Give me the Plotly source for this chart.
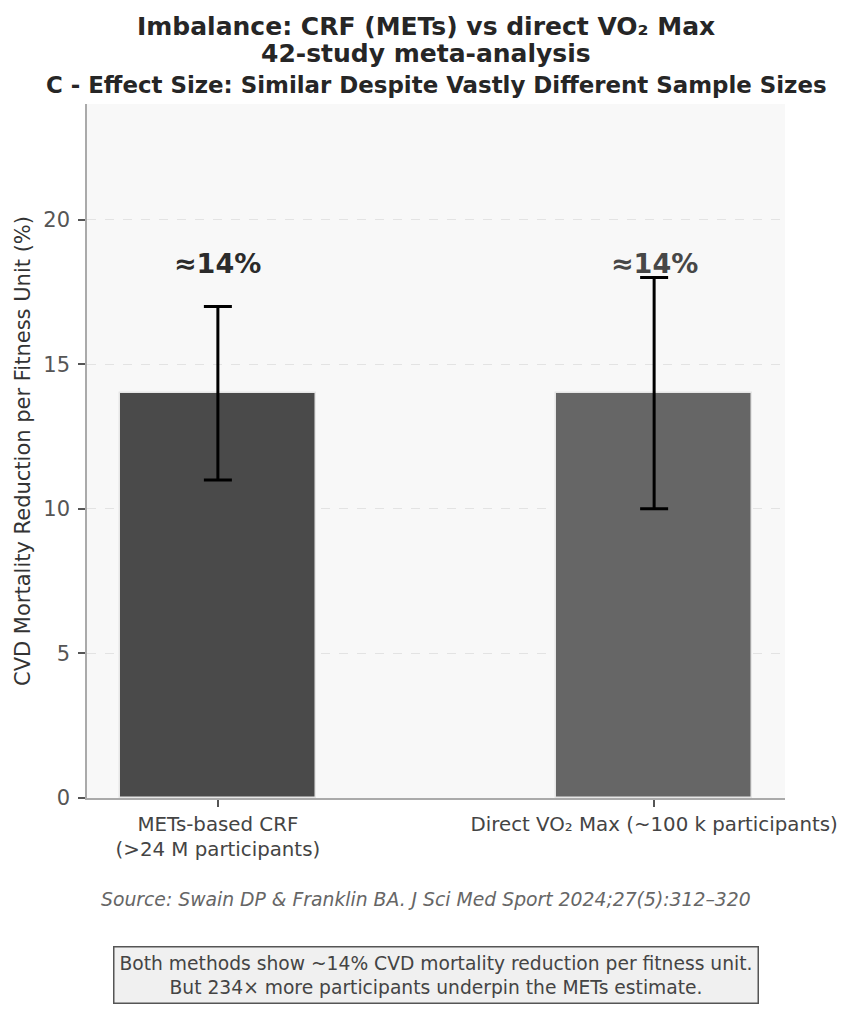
import plotly.graph_objects as go

# data
categories = ["METs-based CRF<br>(>24 M participants)", "Direct VO₂ Max (~100 k participants)"]
effect = [14, 14]
err_plus = [3, 4]
err_minus = [3, 4]
bar_colors = ["#4a4a4a", "#666666"]
labels = ["≈14%", "≈14%"]
label_y = [18.5, 18.5]
label_colors = ["#2b2b2b", "#474747"]

FONT = "DejaVu Sans"
FIG_CX = 0.4857  # figure centre expressed in plot (paper) coords

fig = go.Figure()
fig.add_trace(
    go.Bar(
        x=[0, 1],
        y=effect,
        width=0.45,
        marker=dict(color=bar_colors, line=dict(color="#e6e6e6", width=1.5)),
        error_y=dict(
            type="data",
            symmetric=False,
            array=err_plus,
            arrayminus=err_minus,
            color="black",
            thickness=3,
            width=14,
        ),
        hoverinfo="skip",
    )
)

for i, (txt, yv, c) in enumerate(zip(labels, label_y, label_colors)):
    fig.add_annotation(
        x=i, y=yv, text="<b>" + txt + "</b>", showarrow=False,
        font=dict(family=FONT, size=27, color=c), yanchor="middle",
    )

# page body adds 8px, so margins are offset
fig.update_layout(
    width=852,
    height=1011,
    paper_bgcolor="white",
    plot_bgcolor="#f8f8f8",
    font=dict(family=FONT, color="#444"),
    margin=dict(l=79, r=75, t=96, b=221),
    showlegend=False,
    bargap=0,
)

# title lines and subtitle, placed above the plot area
title_lines = [
    ("<b>Imbalance: CRF (METs) vs direct VO₂ Max</b>", 78, 25, FIG_CX),
    ("<b>42-study meta-analysis</b>", 51, 25, FIG_CX),
    ("<b>C - Effect Size: Similar Despite Vastly Different Sample Sizes</b>", 19, 22.9, 0.5),
]
for txt, shift, size, xc in title_lines:
    fig.add_annotation(
        text=txt, xref="paper", yref="paper", x=xc, y=1.0,
        yanchor="middle", yshift=shift, showarrow=False,
        font=dict(family=FONT, size=size, color="#262626"),
    )

fig.update_xaxes(
    range=[-0.3, 1.3],
    tickmode="array", tickvals=[0, 1], ticktext=categories,
    ticks="outside", ticklen=7, tickwidth=1.5, tickcolor="#555",
    tickfont=dict(family=FONT, size=19.8, color="#444"),
    showline=True, linecolor="#aaaaaa", linewidth=1.5,
    showgrid=False, zeroline=False, automargin=False,
)
fig.update_yaxes(
    range=[0, 24],
    tickvals=[0, 5, 10, 15, 20],
    ticks="outside", ticklen=7, tickwidth=1.5, tickcolor="#555",
    ticklabelstandoff=4,
    tickfont=dict(family=FONT, size=21, color="#555"),
    showline=True, linecolor="#aaaaaa", linewidth=1.5,
    showgrid=True, gridcolor="#e3e3e3", griddash="dash", gridwidth=1,
    zeroline=False, automargin=False,
)

fig.add_annotation(
    text="CVD Mortality Reduction per Fitness Unit (%)",
    xref="paper", yref="paper", x=0, y=0.5, xshift=-78, textangle=-90,
    showarrow=False, font=dict(family=FONT, size=21, color="#333"),
)

fig.add_annotation(
    text="<i>Source: Swain DP & Franklin BA. J Sci Med Sport 2024;27(5):312–320</i>",
    xref="paper", yref="paper", x=FIG_CX, y=0, yshift=-101, yanchor="middle",
    showarrow=False, font=dict(family=FONT, size=18.8, color="#666"),
)
fig.add_annotation(
    text="Both methods show ~14% CVD mortality reduction per fitness unit.<br>But 234× more participants underpin the METs estimate.",
    xref="paper", yref="paper", x=0.5, y=0, yshift=-177, yanchor="middle",
    showarrow=False, font=dict(family=FONT, size=18.7, color="#444"),
    bgcolor="#f0f0f0", bordercolor="#555", borderwidth=1.5, borderpad=5,
)

fig.write_html("out.html")
